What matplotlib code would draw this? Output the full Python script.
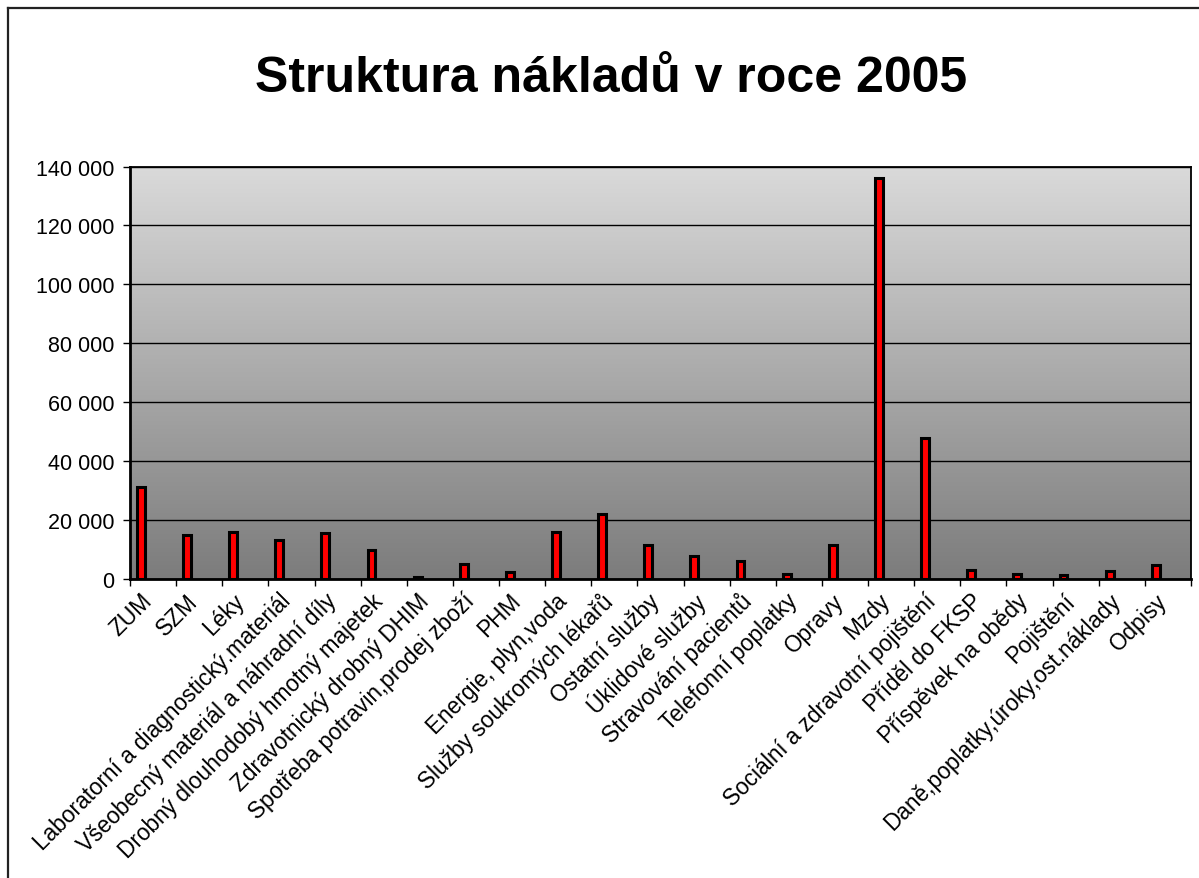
import numpy as np
import matplotlib.pyplot as plt
from matplotlib.lines import Line2D
from matplotlib.ticker import FuncFormatter, FixedLocator

plt.rcParams['font.family'] = ['Liberation Sans', 'DejaVu Sans']

# Data
categories = [
    "ZUM", "SZM", "Léky", "Laboratorní a diagnostický.materiál",
    "Všeobecný materiál a náhradní díly", "Drobný dlouhodobý hmotný majetek",
    "Zdravotnický drobný DHIM", "Spotřeba potravin,prodej zboží", "PHM",
    "Energie, plyn,voda", "Služby soukromých lékařů", "Ostatní služby",
    "Úklidové služby", "Stravování pacientů", "Telefonní poplatky", "Opravy",
    "Mzdy", "Sociální a zdravotní pojištění", "Příděl do FKSP",
    "Příspěvek na obědy", "Pojištění", "Daně,poplatky,úroky,ost.náklady", "Odpisy",
]
values = [
    31300, 14800, 15900, 13400, 15700, 9800,
    600, 5000, 2500, 15900, 22200, 11400,
    7800, 6000, 1700, 11400, 136000, 47800,
    2900, 1600, 1300, 2700, 4600,
]
y_ticks = [0, 20000, 40000, 60000, 80000, 100000, 120000, 140000]

W, H = 1199, 879
fig = plt.figure(figsize=(W / 100, H / 100), dpi=100)
fig.patch.set_facecolor('white')

# outer chart border (runs off the right and bottom edges)
fig.add_artist(Line2D([8 / W, 1.01], [1 - 9 / H, 1 - 9 / H], color='#222222', lw=1.6))
fig.add_artist(Line2D([8 / W, 8 / W], [1 - 9 / H, -0.01], color='#222222', lw=1.6))

left, right, bottom, top = 130 / W, 1191 / W, 1 - 580 / H, 1 - 167.5 / H
ax = fig.add_axes([left, bottom, right - left, top - bottom])

# gradient background
grad = np.linspace(0, 1, 256).reshape(-1, 1)
ax.imshow(grad, cmap=plt.matplotlib.colors.LinearSegmentedColormap.from_list(
    'g', ['#dadada', '#7c7c7c']), aspect='auto', extent=[0, 1, 0, 1],
    transform=ax.transAxes, zorder=0)

n = len(categories)
x = np.arange(n)
ax.bar(x + 0.235, values, width=0.17, color='#ff0000', edgecolor='black',
       linewidth=2.2, zorder=3)

ax.set_xlim(0, n)
ax.set_ylim(0, 140000)
ax.set_yticks(y_ticks)
ax.yaxis.set_major_formatter(FuncFormatter(lambda v, p: f"{int(v):,}".replace(",", " ")))
ax.grid(axis='y', color='black', lw=1.0, zorder=1)
ax.set_axisbelow(False)

# ticks at category boundaries, labels near centres
ax.xaxis.set_major_locator(FixedLocator(np.arange(n + 1)))
ax.xaxis.set_major_formatter(FuncFormatter(lambda v, p: ""))
ax.xaxis.set_minor_locator(FixedLocator(x + 0.4))
ax.set_xticklabels(categories, minor=True, rotation=45, ha='right', va='center',
                   rotation_mode='anchor', fontsize=16.3)
ax.tick_params(axis='x', which='minor', length=0, pad=13)
ax.tick_params(axis='x', which='major', length=5, width=1, direction='out')
ax.tick_params(axis='y', length=5, width=1, direction='out', labelsize=15.5, pad=6)

for s in ax.spines.values():
    s.set_color('black')
    s.set_linewidth(1.3)
ax.spines['left'].set_linewidth(2)
ax.spines['bottom'].set_linewidth(2)

fig.text(0.51, 1 - 92 / H, "Struktura nákladů v roce 2005", ha='center',
         va='baseline', fontsize=36, fontweight='bold')

fig.savefig('out.png', dpi=100)
